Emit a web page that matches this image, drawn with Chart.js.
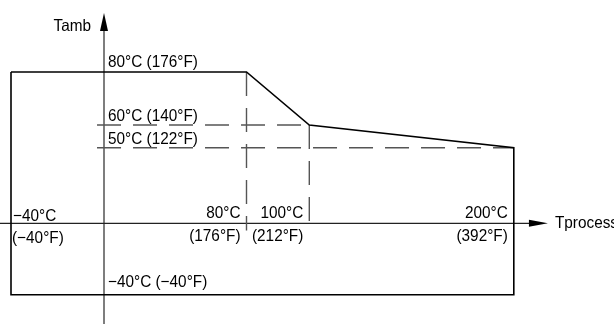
<!DOCTYPE html>
<html><head><meta charset="utf-8">
<script src="https://cdn.jsdelivr.net/npm/chart.js@4"></script>
<style>html,body{margin:0;padding:0;background:#fff}#wrap{width:614px;height:324px}</style>
</head><body><div id="wrap"><canvas id="c" width="614" height="324"></canvas></div>
<script>
// ---------------- DATA ----------------
// Operating region boundary (Tprocess °C, Tamb °C)
const boundaryTprocess = [-40, 80, 100, 200, 200, -40, -40];
const boundaryTamb     = [ 80, 80,  60,  50, -40, -40,  80];
// Derating reference levels (Tamb) and where they end (Tprocess)
const ambLevels    = [60, 50];
const ambLevelEnds = [100, 200];
// Process reference temperatures and the Tamb where they start
const procLevels     = [80, 100];
const procLevelTops  = [80, 60];
// Axis tick labels
const tambTickValues = [80, 60, 50, -40];
const tambTickLabels = ['80°C (176°F)', '60°C (140°F)', '50°C (122°F)', '−40°C (−40°F)'];
const procTickValues = [-40, 80, 100, 200];
const procTickLabelsC = ['−40°C', '80°C', '100°C', '200°C'];
const procTickLabelsF = ['(−40°F)', '(176°F)', '(212°F)', '(392°F)'];
const axisTitleX = 'Tprocess';
const axisTitleY = 'Tamb';

// ---------------- piecewise (schematic) scale ----------------
class PiecewiseScale extends Chart.LinearScale {
  _frac(v) {
    const k = this.options.knots;
    let i = k.length - 2;
    if (v <= k[0][0]) i = 0;
    else for (let j = 0; j < k.length - 1; j++) { if (v <= k[j + 1][0]) { i = j; break; } }
    const [v0, f0] = k[i], [v1, f1] = k[i + 1];
    return f0 + (v - v0) * (f1 - f0) / (v1 - v0);
  }
  getPixelForValue(v) {
    const f = this._frac(v);
    return this.isHorizontal() ? this.left + f * this.width : this.top + f * this.height;
  }
  getValueForPixel(p) {
    const f = this.isHorizontal() ? (p - this.left) / this.width : (p - this.top) / this.height;
    const k = this.options.knots;
    for (let j = 0; j < k.length - 1; j++) {
      const [v0, f0] = k[j], [v1, f1] = k[j + 1];
      if ((f - f0) * (f - f1) <= 0) return v0 + (f - f0) * (v1 - v0) / (f1 - f0);
    }
    return k[0][0];
  }
}
PiecewiseScale.id = 'piecewise';
PiecewiseScale.defaults = {};
Chart.register(PiecewiseScale);

// ---------------- datasets ----------------
const pts = (xs, ys) => xs.map((x, i) => ({x, y: ys[i]}));
const DASH = [24, 12];
const datasets = [{
  data: pts(boundaryTprocess, boundaryTamb),
  borderColor: '#000', borderWidth: 1.6
}];
ambLevels.forEach((lv, i) => datasets.push({
  data: pts([-3, ambLevelEnds[i]], [lv, lv]),
  borderColor: '#555', borderWidth: 1.4, borderDash: DASH
}));
procLevels.forEach((lv, i) => datasets.push({
  data: pts([lv, lv], [procLevelTops[i], -4]),
  borderColor: '#555', borderWidth: 1.4, borderDash: DASH
}));
datasets.forEach(d => { d.showLine = true; d.pointRadius = 0; d.fill = false; d.tension = 0; });

const FONT = '16.5px "Liberation Sans", Arial, sans-serif';
const SX = 0.93;

function txt(ctx, s, x, y, align) {
  ctx.save();
  ctx.translate(x, y);
  ctx.scale(SX, 1);
  ctx.textAlign = align;
  ctx.fillText(s, 0, 0);
  ctx.restore();
}

const diagramPlugin = {
  id: 'diagram',
  beforeDatasetsDraw(chart) {
    const {ctx, chartArea, scales: {x, y}} = chart;
    const x0 = x.getPixelForValue(0), y0 = y.getPixelForValue(0);
    ctx.save();
    // vertical axis
    ctx.strokeStyle = '#707070'; ctx.lineWidth = 1.8;
    ctx.beginPath(); ctx.moveTo(x0, chartArea.bottom); ctx.lineTo(x0, chartArea.top + 28); ctx.stroke();
    ctx.fillStyle = '#000';
    ctx.beginPath(); ctx.moveTo(x0, chartArea.top + 13); ctx.lineTo(x0 + 4, chartArea.top + 31); ctx.lineTo(x0 - 4, chartArea.top + 31); ctx.closePath(); ctx.fill();
    // horizontal axis
    const xe = x.getPixelForValue(207.4);
    ctx.strokeStyle = '#222'; ctx.lineWidth = 1.3;
    ctx.beginPath(); ctx.moveTo(chartArea.left, y0); ctx.lineTo(xe + 2, y0); ctx.stroke();
    ctx.beginPath(); ctx.moveTo(xe + 19, y0); ctx.lineTo(xe, y0 - 3.5); ctx.lineTo(xe, y0 + 3.5); ctx.closePath(); ctx.fill();
    ctx.restore();
  },
  afterDatasetsDraw(chart) {
    const {ctx, scales: {x, y}} = chart;
    const x0 = x.getPixelForValue(0), y0 = y.getPixelForValue(0);
    ctx.save();
    ctx.font = FONT; ctx.fillStyle = '#000'; ctx.textBaseline = 'alphabetic';
    const yOff = [5, 4, 4, 8];
    tambTickValues.forEach((v, i) => txt(ctx, tambTickLabels[i], x0 + 4, y.getPixelForValue(v) - yOff[i], 'left'));
    procTickValues.forEach((v, i) => {
      const px = x.getPixelForValue(v);
      if (v < 0) {
        txt(ctx, procTickLabelsC[i], px + 2, y0 - 2, 'left');
        txt(ctx, procTickLabelsF[i], px + 1, y0 + 20, 'left');
      } else {
        txt(ctx, procTickLabelsC[i], px - 6, y0 - 5, 'right');
        txt(ctx, procTickLabelsF[i], px - 6, y0 + 18, 'right');
      }
    });
    txt(ctx, axisTitleX, x.getPixelForValue(207.4) + 26, y0 + 5, 'left');
    txt(ctx, axisTitleY, x0 - 13, 31, 'right');
    ctx.restore();
  }
};

new Chart(document.getElementById('c'), {
  type: 'scatter',
  data: {datasets},
  options: {
    responsive: false, animation: false,
    layout: {padding: 0},
    plugins: {legend: {display: false}, tooltip: {enabled: false}, title: {display: false}},
    scales: {
      x: {type: 'piecewise', display: false, min: -45, max: 230,
          knots: [[-40, 11 / 614], [0, 104 / 614], [80, 246.5 / 614], [100, 309.3 / 614], [200, 513.8 / 614]]},
      y: {type: 'piecewise', display: false, min: -60, max: 100,
          knots: [[-40, 294.7 / 324], [0, 223.3 / 324], [50, 147.7 / 324], [60, 125 / 324], [80, 72 / 324]]}
    }
  },
  plugins: [diagramPlugin]
});
</script></body></html>
